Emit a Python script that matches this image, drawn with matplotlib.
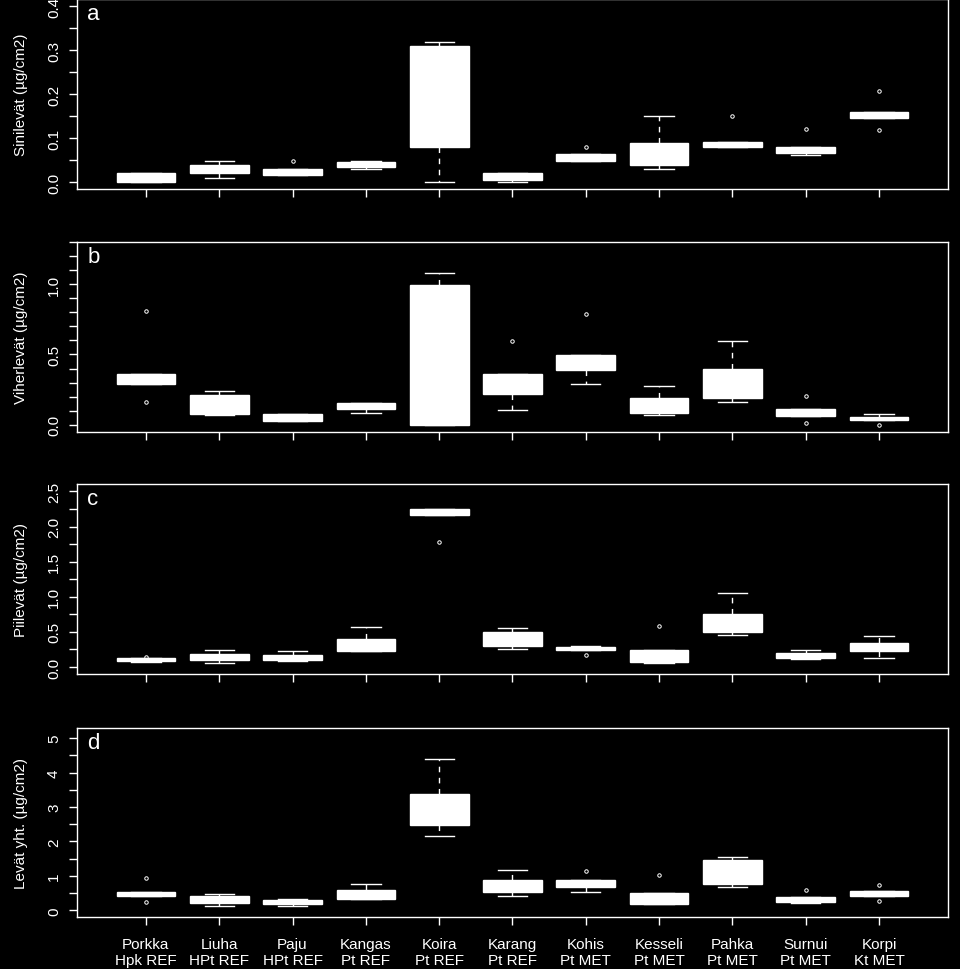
import matplotlib.pyplot as plt
from matplotlib.ticker import MultipleLocator

plt.rcParams['font.family'] = ['Liberation Sans', 'DejaVu Sans']

# paikat
sites = ['Porkka\nHpk REF', 'Liuha\nHPt REF', 'Paju\nHPt REF', 'Kangas\nPt REF',
         'Koira\nPt REF', 'Karang\nPt REF', 'Kohis\nPt MET', 'Kesseli\nPt MET',
         'Pahka\nPt MET', 'Surnui\nPt MET', 'Korpi\nKt MET']

# a: Sinilevät
sini_q1 = [0.000, 0.020, 0.017, 0.035, 0.079, 0.004, 0.047, 0.038, 0.079, 0.065, 0.145]
sini_med = [0.010, 0.030, 0.024, 0.041, 0.200, 0.012, 0.055, 0.060, 0.085, 0.072, 0.152]
sini_q3 = [0.021, 0.039, 0.030, 0.046, 0.310, 0.021, 0.064, 0.089, 0.092, 0.080, 0.159]
sini_lo = [0.000, 0.009, 0.017, 0.030, 0.000, 0.000, 0.047, 0.030, 0.079, 0.061, 0.145]
sini_hi = [0.021, 0.047, 0.030, 0.048, 0.318, 0.021, 0.064, 0.150, 0.092, 0.080, 0.159]
sini_out = [[], [], [0.048], [], [], [], [0.080], [], [0.150], [0.120], [0.208, 0.118]]

# b: Viherlevät
vihr_q1 = [0.288, 0.074, 0.024, 0.110, 0.000, 0.217, 0.388, 0.081, 0.188, 0.059, 0.031]
vihr_med = [0.330, 0.150, 0.050, 0.130, 0.500, 0.300, 0.440, 0.140, 0.300, 0.090, 0.045]
vihr_q3 = [0.364, 0.214, 0.079, 0.155, 0.993, 0.364, 0.493, 0.193, 0.393, 0.114, 0.057]
vihr_lo = [0.288, 0.067, 0.024, 0.086, 0.000, 0.105, 0.290, 0.069, 0.162, 0.059, 0.031]
vihr_hi = [0.364, 0.240, 0.079, 0.155, 1.079, 0.364, 0.493, 0.279, 0.598, 0.114, 0.076]
vihr_out = [[0.807, 0.162], [], [], [], [], [0.595], [0.790], [], [], [0.202, 0.009], [0.000]]

# c: Piilevät
piil_q1 = [0.080, 0.104, 0.095, 0.223, 2.166, 0.294, 0.237, 0.066, 0.504, 0.123, 0.223]
piil_med = [0.100, 0.150, 0.130, 0.300, 2.200, 0.400, 0.260, 0.150, 0.600, 0.160, 0.280]
piil_q3 = [0.133, 0.190, 0.176, 0.400, 2.247, 0.500, 0.290, 0.243, 0.761, 0.200, 0.347]
piil_lo = [0.070, 0.057, 0.080, 0.223, 2.166, 0.257, 0.237, 0.050, 0.457, 0.109, 0.129]
piil_hi = [0.133, 0.243, 0.229, 0.576, 2.247, 0.557, 0.305, 0.243, 1.057, 0.243, 0.443]
piil_out = [[0.145], [], [], [], [1.786], [], [0.171], [0.590], [], [], []]

# d: Levät yhteensä
yht_q1 = [0.417, 0.213, 0.184, 0.330, 2.485, 0.533, 0.679, 0.184, 0.767, 0.243, 0.417]
yht_med = [0.470, 0.320, 0.240, 0.450, 2.900, 0.700, 0.780, 0.300, 1.100, 0.300, 0.480]
yht_q3 = [0.533, 0.428, 0.291, 0.583, 3.370, 0.874, 0.874, 0.495, 1.456, 0.379, 0.553]
yht_lo = [0.417, 0.137, 0.137, 0.330, 2.147, 0.428, 0.544, 0.184, 0.690, 0.214, 0.417]
yht_hi = [0.533, 0.486, 0.320, 0.777, 4.390, 1.156, 0.874, 0.495, 1.544, 0.379, 0.553]
yht_out = [[0.923, 0.253], [], [], [], [], [], [1.136], [1.020], [], [0.583], [0.738, 0.262]]

panels = [
    ('a', 'Sinilevät (µg/cm2)', sini_q1, sini_med, sini_q3, sini_lo, sini_hi, sini_out,
     (-0.016, 0.416), 0.1, 0.05),
    ('b', 'Viherlevät (µg/cm2)', vihr_q1, vihr_med, vihr_q3, vihr_lo, vihr_hi, vihr_out,
     (-0.05, 1.30), 0.5, 0.1),
    ('c', 'Piilevät (µg/cm2)', piil_q1, piil_med, piil_q3, piil_lo, piil_hi, piil_out,
     (-0.1, 2.6), 0.5, 0.25),
    ('d', 'Levät yht. (µg/cm2)', yht_q1, yht_med, yht_q3, yht_lo, yht_hi, yht_out,
     (-0.204, 5.304), 1, 0.5),
]

bottoms = [0.8041, 0.5539, 0.3041, 0.0533]

fig = plt.figure(figsize=(9.6, 9.7), dpi=100, facecolor='black')

pos = list(range(1, len(sites) + 1))
for (letter, ylab, q1, med, q3, lo, hi, out, ylim, major, minor), b in zip(panels, bottoms):
    ax = fig.add_axes([0.0802, b, 0.9073, 0.1955])
    ax.set_facecolor('black')
    stats = [dict(q1=a1, med=m, q3=a3, whislo=l, whishi=h, fliers=f)
             for a1, m, a3, l, h, f in zip(q1, med, q3, lo, hi, out)]
    ax.bxp(stats, positions=pos, widths=0.8, capwidths=0.4, patch_artist=True,
           boxprops=dict(facecolor='white', edgecolor='white', linewidth=1),
           medianprops=dict(color='white', linewidth=1),
           whiskerprops=dict(color='white', linewidth=1, linestyle=(0, (4, 4))),
           capprops=dict(color='white', linewidth=1),
           flierprops=dict(marker='o', markersize=2.5, markerfacecolor='none',
                           markeredgecolor='white', markeredgewidth=0.7))
    ax.set_xlim(0.06, 11.94)
    ax.set_ylim(*ylim)
    ax.yaxis.set_major_locator(MultipleLocator(major))
    ax.yaxis.set_minor_locator(MultipleLocator(minor))
    for s in ax.spines.values():
        s.set_color('white')
        s.set_linewidth(1)
    ax.tick_params(which='both', colors='white', length=5.5, width=1, labelsize=11)
    ax.tick_params(axis='y', pad=6)
    for t in ax.get_yticklabels():
        t.set_rotation(90)
        t.set_va('center')
    ax.set_xticks(pos)
    if letter == 'd':
        ax.set_xticklabels(sites, fontsize=11, color='white', linespacing=1.15)
        ax.tick_params(axis='x', pad=9)
    else:
        ax.set_xticklabels([])
    ax.set_ylabel(ylab, color='white', fontsize=11)
    ax.yaxis.set_label_coords(-0.056, 0.5)
    ax.text(0.012, 0.894, letter, transform=ax.transAxes, color='white',
            fontsize=16, ha='left', va='baseline')

fig.savefig('out.png', dpi=100, facecolor='black')
